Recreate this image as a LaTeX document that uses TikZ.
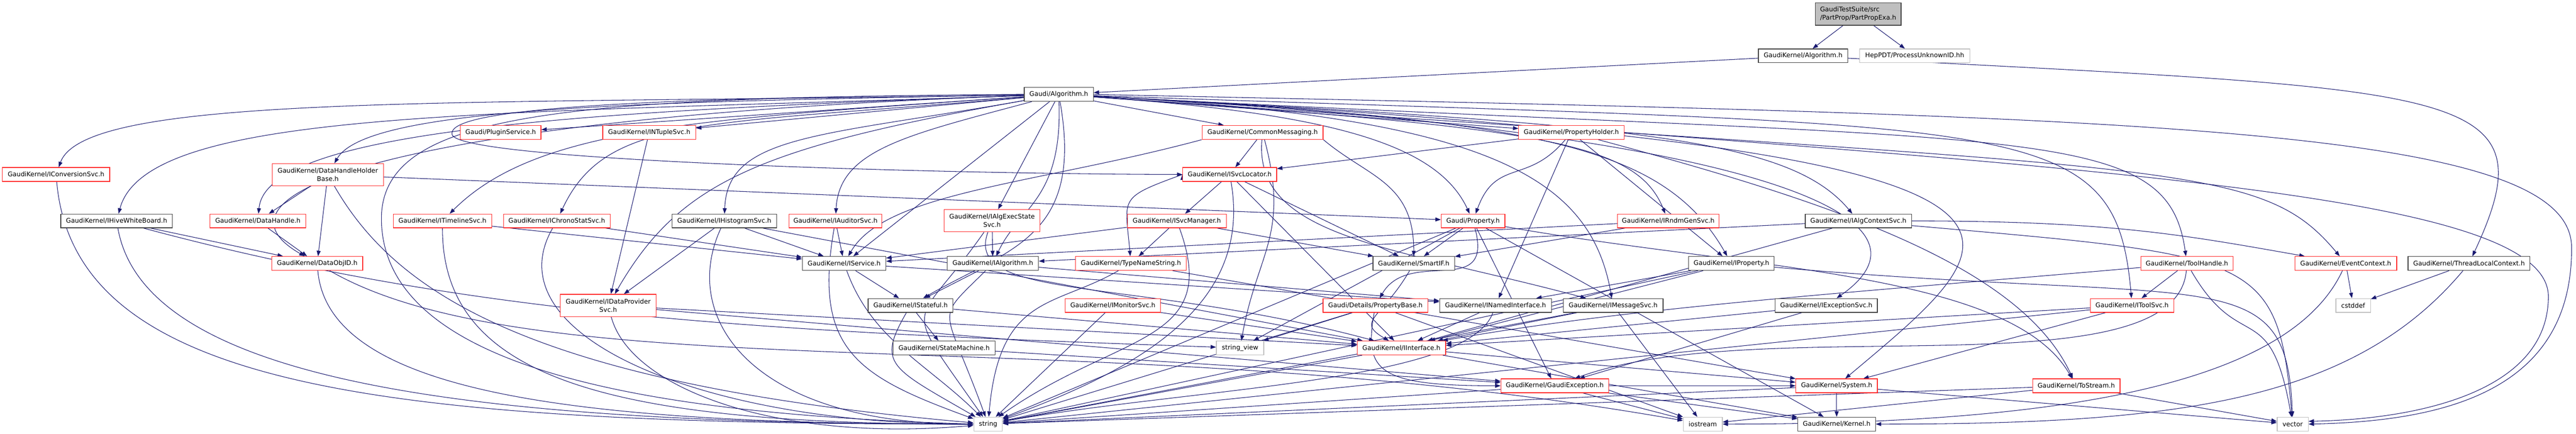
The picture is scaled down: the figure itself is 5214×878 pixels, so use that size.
\documentclass[tikz,border=0pt]{standalone}
\usepackage{fontspec}
\setmainfont{DejaVu Sans}
\usepackage{tikz}
\usetikzlibrary{arrows.meta}
\definecolor{edgeblue}{HTML}{191970}
\definecolor{truncred}{HTML}{FF2A2A}
\definecolor{leafgray}{HTML}{BFBFBF}
\definecolor{nodeblack}{HTML}{404040}
\pgfdeclarelayer{background}
\pgfsetlayers{background,main}
\tikzset{
    %Define standard arrow tip
    >={Triangle[length=2.2pt,width=1.6pt]},
    %Define style for boxes
    hdr/.style={
           rectangle,
           draw=nodeblack, line width=0.26pt,
           fill=white,
           minimum height=5.6pt,
           inner xsep=0.6pt, inner ysep=0pt,
           font=\fontsize{2.6}{3.4}\selectfont,
           align=center},
    redhdr/.style={hdr, draw=truncred},
    leafbox/.style={hdr, draw=leafgray},
    % Define arrow style
    dep/.style={
           ->,
           draw=edgeblue, line width=0.22pt,
           every edge/.style={draw=edgeblue, line width=0.22pt}}
}

\begin{document}
\begin{tikzpicture}[x=0.2pt,y=0.2pt]
\useasboundingbox (0,0) rectangle (5214,-878);

 %nodes
\node[hdr, fill=leafgray, align=left, minimum width=34.8pt, minimum height=9pt] (part) at (3761,-28.5) {GaudiTestSuite/src\\/PartProp/PartPropExa.h};
\node[hdr, minimum width=36.2pt] (gkalg) at (3649.5,-113) {GaudiKernel/Algorithm.h};
\node[leafbox, minimum width=44.6pt] (heppdt) at (3875.5,-113) {HepPDT/ProcessUnknownID.hh};
\node[hdr, minimum width=28pt] (galg) at (2143,-191) {Gaudi/Algorithm.h};

\node[redhdr, minimum width=32.6pt] (plugin) at (1013.5,-268) {Gaudi/PluginService.h};
\node[redhdr, minimum width=37.6pt] (ntuple) at (1314,-268) {GaudiKernel/INTupleSvc.h};
\node[redhdr, minimum width=49pt] (commsg) at (2555.5,-268) {GaudiKernel/CommonMessaging.h};
\node[redhdr, minimum width=42.6pt] (propholder) at (3180.5,-268) {GaudiKernel/PropertyHolder.h};

\node[redhdr, minimum width=43.4pt] (convsvc) at (113.5,-353) {GaudiKernel/IConversionSvc.h};
\node[redhdr, minimum width=45pt, minimum height=9pt] (dhhb) at (663.5,-353.5) {GaudiKernel/DataHandleHolder\\Base.h};
\node[redhdr, minimum width=38pt] (svcloc) at (2489,-353) {GaudiKernel/ISvcLocator.h};

\node[hdr, minimum width=45.2pt] (hivewb) at (236,-447) {GaudiKernel/IHiveWhiteBoard.h};
\node[redhdr, minimum width=38.8pt] (datahandle) at (522,-447) {GaudiKernel/DataHandle.h};
\node[redhdr, minimum width=39.8pt] (timeline) at (895.5,-447) {GaudiKernel/ITimelineSvc.h};
\node[redhdr, minimum width=43.2pt] (chrono) at (1127,-447) {GaudiKernel/IChronoStatSvc.h};
\node[hdr, minimum width=42.4pt] (histo) at (1466,-447) {GaudiKernel/IHistogramSvc.h};
\node[redhdr, minimum width=37.6pt] (auditor) at (1691,-447) {GaudiKernel/IAuditorSvc.h};
\node[redhdr, minimum width=38.8pt, minimum height=9pt] (algexec) at (2008,-446.5) {GaudiKernel/IAlgExecState\\Svc.h};
\node[redhdr, minimum width=40pt] (ismanager) at (2382,-447) {GaudiKernel/ISvcManager.h};
\node[redhdr, minimum width=25.8pt] (property) at (2981.5,-447) {Gaudi/Property.h};
\node[redhdr, minimum width=41pt] (rndm) at (3376.5,-447) {GaudiKernel/IRndmGenSvc.h};
\node[hdr, minimum width=43pt] (algctx) at (3761.5,-447) {GaudiKernel/IAlgContextSvc.h};

\node[redhdr, minimum width=36.8pt] (dataobjid) at (642,-533) {GaudiKernel/DataObjID.h};
\node[hdr, minimum width=33.8pt] (iservice) at (1708.5,-533) {GaudiKernel/IService.h};
\node[hdr, minimum width=37pt] (ialgorithm) at (2009.5,-533) {GaudiKernel/IAlgorithm.h};
\node[redhdr, minimum width=44.8pt] (typename) at (2289,-533) {GaudiKernel/TypeNameString.h};
\node[hdr, minimum width=33pt] (smartif) at (2861.5,-533) {GaudiKernel/SmartIF.h};
\node[hdr, minimum width=34.6pt] (iproperty) at (3504.5,-533) {GaudiKernel/IProperty.h};
\node[redhdr, minimum width=37.4pt] (toolhandle) at (4426.5,-533) {GaudiKernel/ToolHandle.h};
\node[redhdr, minimum width=41.2pt] (eventctx) at (4748,-533) {GaudiKernel/EventContext.h};
\node[hdr, minimum width=49.4pt] (tlc) at (4997.5,-533) {GaudiKernel/ThreadLocalContext.h};

\node[redhdr, minimum width=38.8pt, minimum height=9pt] (dataprov) at (1231,-618) {GaudiKernel/IDataProvider\\Svc.h};
\node[hdr, minimum width=34.4pt] (istateful) at (1843,-618) {GaudiKernel/IStateful.h};
\node[redhdr, minimum width=38.6pt] (imonitor) at (2252.5,-618) {GaudiKernel/IMonitorSvc.h};
\node[redhdr, minimum width=42.4pt] (propbase) at (2784,-618) {Gaudi/Details/PropertyBase.h};
\node[hdr, minimum width=45.2pt] (inamed) at (3027,-618) {GaudiKernel/INamedInterface.h};
\node[hdr, minimum width=40.4pt] (imessage) at (3265,-618) {GaudiKernel/IMessageSvc.h};
\node[hdr, minimum width=41.4pt] (iexception) at (3696.5,-618) {GaudiKernel/IExceptionSvc.h};
\node[redhdr, minimum width=33.8pt] (toolsvc) at (4315.5,-618) {GaudiKernel/IToolSvc.h};
\node[leafbox, minimum width=14pt] (cstddef) at (4763,-618) {cstddef};

\node[hdr, minimum width=41.2pt] (statemachine) at (1911,-704) {GaudiKernel/StateMachine.h};
\node[leafbox, minimum width=19.2pt] (stringview) at (2510,-704) {string\_view};
\node[redhdr, minimum width=35.8pt] (iinterface) at (2836.5,-704) {GaudiKernel/IInterface.h};

\node[redhdr, minimum width=43.6pt] (gaudiexc) at (3147,-780.5) {GaudiKernel/GaudiException.h};
\node[redhdr, minimum width=33pt] (system) at (3717.5,-780.5) {GaudiKernel/System.h};
\node[redhdr, minimum width=35.4pt] (tostream) at (4202.5,-780.5) {GaudiKernel/ToStream.h};

\node[leafbox, minimum width=11.6pt] (string) at (2000,-858) {string};
\node[leafbox, minimum width=15.8pt] (iostream) at (3446.5,-858) {iostream};
\node[hdr, minimum width=31.4pt] (kernel) at (3717.5,-858) {GaudiKernel/Kernel.h};
\node[leafbox, minimum width=12.6pt] (vector) at (4640.5,-858) {vector};

\begin{pgfonlayer}{background}
 %top
 \path[dep]
    (part) edge (gkalg)
           edge (heppdt)
    (gkalg) edge (galg)
            edge[out=-3,in=65,out distance=250pt,in distance=76pt] (tlc);

 %Gaudi/Algorithm.h
 \path[dep]
    (galg) edge (plugin)
           edge (ntuple)
           edge (commsg)
           edge (propholder)
           edge[out=181,in=70,out distance=230pt,in distance=32pt] (convsvc)
           edge[out=181,in=60,out distance=160pt,in distance=26pt] (dhhb)
           edge[out=182,in=75,out distance=220pt,in distance=44pt] (hivewb)
           edge[out=182,in=85,out distance=180pt,in distance=34pt] (datahandle)
           edge[out=182,in=150,out distance=250pt,in distance=52pt] (dataobjid)
           edge[out=184,in=45,out distance=130pt,in distance=50pt] (timeline)
           edge[out=185,in=65,out distance=130pt,in distance=44pt] (chrono)
           edge[out=190,in=88,out distance=84pt,in distance=32pt] (histo)
           edge[out=195,in=87,out distance=52pt,in distance=26pt] (auditor)
           edge (algexec)
           edge (iservice)
           edge[out=-88,in=65,out distance=40pt,in distance=22pt] (ialgorithm)
           edge[out=-80,in=30,out distance=56pt,in distance=40pt] (istateful)
           edge[out=190,in=60,out distance=110pt,in distance=52pt] (dataprov)
           edge[out=-4,in=115,out distance=100pt,in distance=30pt] (property)
           edge[out=-4,in=112,out distance=180pt,in distance=32pt] (rndm)
           edge[out=-3,in=130,out distance=220pt,in distance=40pt] (algctx)
           edge[out=-3,in=120,out distance=180pt,in distance=52pt] (iproperty)
           edge[out=-3,in=100,out distance=160pt,in distance=50pt] (imessage)
           edge[out=-3,in=35,out distance=260pt,in distance=60pt] (iexception)
           edge[out=-2,in=95,out distance=380pt,in distance=76pt] (toolsvc)
           edge[out=-3,in=40,out distance=420pt,in distance=96pt] (system)
           edge[out=-3,in=98,out distance=380pt,in distance=56pt] (toolhandle)
           edge[out=-4,in=130,out distance=440pt,in distance=52pt] (eventctx);
 \draw[dep] (galg.west) .. controls (1200,-198) and (905,-225) .. (915,-272) .. controls (925,-325) and (1900,-352) .. (svcloc.west);
 \draw[dep] (galg.west) .. controls (1150,-198) and (775,-225) .. (772,-440) .. controls (770,-770) and (1400,-840) .. (string.west);
 \draw[dep] (galg.east) .. controls (4300,-235) and (5203,-250) .. (5205,-500) .. controls (5207,-790) and (4950,-852) .. (vector.east);

 %messaging and services
 \path[dep]
    (commsg) edge (svcloc)
             edge[out=-95,in=165,out distance=40pt,in distance=80pt] (imessage)
             edge[out=-75,in=80,out distance=40pt,in distance=36pt] (stringview)
    (commsg.south west) edge[out=195,in=60,out distance=70pt,in distance=30pt] (iservice)
    (commsg.south east) edge[out=-40,in=90,out distance=24pt,in distance=30pt] (smartif)
    (svcloc) edge (ismanager)
             edge (smartif)
             edge (iinterface)
             edge[out=-80,in=20,out distance=50pt,in distance=60pt] (string)
    (svcloc.west) edge[out=200,in=95,out distance=28pt,in distance=24pt] (typename)
    (ismanager) edge (iservice)
                edge (typename)
                edge[out=-70,in=35,out distance=50pt,in distance=60pt] (string)
                edge (smartif)
    (propholder) edge (svcloc)
                 edge[out=-130,in=70,out distance=24pt,in distance=24pt] (property)
                 edge (inamed)
                 edge (iproperty)
                 edge[out=-15,in=115,out distance=100pt,in distance=50pt] (tostream);
 \draw[dep] (propholder.east) .. controls (4500,-360) and (5158,-420) .. (5158,-600) .. controls (5158,-790) and (4900,-848) .. (vector.10);

 %properties
 \path[dep]
    (property) edge[out=-75,in=60,out distance=30pt,in distance=24pt] (propbase)
               edge (smartif)
               edge (string)
               edge (stringview)
               edge (gaudiexc)
               edge (kernel)
               edge[out=-10,in=120,out distance=100pt,in distance=50pt] (tostream)
    (propbase) edge (string)
               edge (stringview)
               edge[out=-100,in=180,out distance=24pt,in distance=50pt] (gaudiexc)
               edge (iostream)
    (smartif) edge[out=-120,in=150,out distance=22pt,in distance=16pt] (iinterface)
    (typename) edge[out=-150,in=85,out distance=30pt,in distance=50pt] (string)
               edge (system)
    (rndm) edge (iservice)
           edge (smartif);

 %left part
 \path[dep]
    (iservice) edge (istateful)
               edge (inamed)
               edge[out=-70,in=135,out distance=30pt,in distance=30pt] (string)
    (auditor) edge (iservice)
              edge[out=-100,in=160,out distance=50pt,in distance=50pt] (string)
    (histo) edge (iservice)
            edge (dataprov)
            edge[out=-115,in=180,out distance=40pt,in distance=90pt] (string)
            edge (iinterface)
    (chrono) edge (iservice)
             edge[out=-120,in=180,out distance=50pt,in distance=110pt] (string)
    (timeline) edge (iservice)
               edge[out=-90,in=180,out distance=60pt,in distance=150pt] (string)
    (dataprov) edge (iinterface)
               edge[out=-75,in=185,out distance=30pt,in distance=80pt] (string)
               edge (gaudiexc)
    (ntuple) edge (dataprov)
    (convsvc) edge[out=-85,in=180,out distance=84pt,in distance=240pt] (string)
    (hivewb) edge (dataobjid)
             edge[out=-15,in=178,out distance=140pt,in distance=180pt] (stringview)
             edge[out=-80,in=180,out distance=64pt,in distance=200pt] (string)
    (datahandle) edge (dataobjid)
    (dhhb) edge (datahandle)
           edge (dataobjid)
           edge (property)
           edge[out=-60,in=175,out distance=50pt,in distance=180pt] (string)
    (dataobjid) edge[out=-85,in=180,out distance=50pt,in distance=160pt] (string)
                edge[out=-30,in=170,out distance=100pt,in distance=240pt] (iostream);

 %middle part
 \path[dep]
    (ialgorithm) edge (istateful)
                 edge (inamed)
                 edge[out=-135,in=110,out distance=30pt,in distance=50pt] (string)
    (algexec) edge (ialgorithm)
              edge[out=-125,in=125,out distance=50pt,in distance=60pt] (string)
              edge[out=-110,in=165,out distance=30pt,in distance=100pt] (iinterface)
    (istateful) edge (statemachine)
                edge (iinterface)
                edge[out=-120,in=150,out distance=24pt,in distance=40pt] (string)
    (statemachine) edge (gaudiexc)
    (imonitor) edge (string)
               edge (iinterface)
    (iproperty) edge (inamed)
                edge (iinterface)
                edge (string)
                edge[out=-5,in=92,out distance=180pt,in distance=64pt] (vector)
    (imessage) edge (iinterface)
               edge (iostream)
               edge (string)
    (inamed) edge (iinterface)
             edge[out=-110,in=10,out distance=30pt,in distance=80pt] (string)
    (iinterface) edge (system)
                 edge (kernel)
                 edge (string)
    (iexception) edge (iinterface)
                 edge (gaudiexc);

 %bottom and right part
 \path[dep]
    (gaudiexc) edge (string)
               edge (iostream)
               edge (system)
               edge (kernel)
    (system) edge (kernel)
             edge (string)
             edge (vector)
    (tostream) edge (string)
               edge (vector)
               edge (iostream)
    (toolsvc) edge (system)
              edge (iinterface)
              edge (string)
    (toolhandle) edge (toolsvc)
                 edge[out=-60,in=100,out distance=40pt,in distance=50pt] (vector)
                 edge[out=185,in=10,out distance=120pt,in distance=80pt] (iinterface)
                 edge[out=-95,in=20,out distance=50pt,in distance=80pt] (gaudiexc)
    (eventctx) edge (cstddef)
               edge[out=-115,in=0,out distance=50pt,in distance=140pt] (iostream)
    (tlc) edge (cstddef)
          edge[out=-130,in=0,out distance=70pt,in distance=120pt] (kernel)
    (algctx) edge (ialgorithm)
             edge (iinterface)
             edge[out=0,in=170,out distance=80pt,in distance=50pt] (eventctx)
             edge[out=-5,in=95,out distance=140pt,in distance=66pt] (vector);
\end{pgfonlayer}

\end{tikzpicture}
\end{document}
